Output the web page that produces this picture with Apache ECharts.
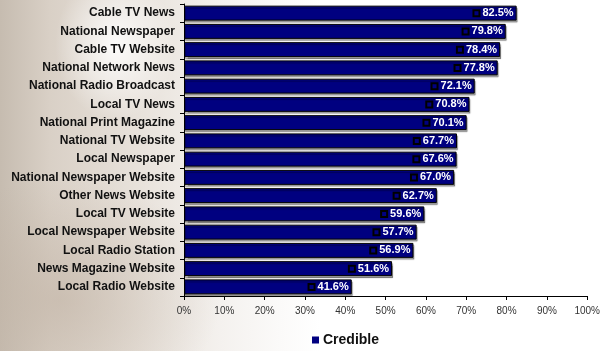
<!DOCTYPE html>
<html><head><meta charset="utf-8">
<script src="https://cdn.jsdelivr.net/npm/echarts@6/dist/echarts.min.js"></script>
<style>html,body{margin:0;padding:0;}#c{width:603px;height:351px;
background:
radial-gradient(ellipse 60px 75px at 115px 45px, rgba(255,255,255,0.9), rgba(255,255,255,0) 100%),
radial-gradient(ellipse 160px 120px at 60px 300px, rgba(190,175,160,0.55), rgba(190,175,160,0) 100%),
linear-gradient(90deg,#c6bcb0 0px,#d9d0c6 50px,#e8e2db 140px,#f4f1ee 220px,#fbfaf9 280px,#ffffff 320px);}
</style></head><body><div id="c"></div>
<script>
const categories = ["Cable TV News","National Newspaper","Cable TV Website","National Network News","National Radio Broadcast","Local TV News","National Print Magazine","National TV Website","Local Newspaper","National Newspaper Website","Other News Website","Local TV Website","Local Newspaper Website","Local Radio Station","News Magazine Website","Local Radio Website"];
const credible = [82.5,79.8,78.4,77.8,72.1,70.8,70.1,67.7,67.6,67.0,62.7,59.6,57.7,56.9,51.6,41.6];
const ticks = [0,10,20,30,40,50,60,70,80,90,100];
const seriesName = "Credible";

const chart = echarts.init(document.getElementById('c'), null, {renderer:'canvas'});
chart.setOption({
  animation:false,
  grid:{left:184,right:13,top:4,bottom:55,containLabel:false},
  legend:{top:328,left:307,itemWidth:7,itemHeight:7,icon:'rect',itemGap:4,
    itemStyle:{borderWidth:0},
    textStyle:{fontFamily:'Liberation Sans, Arial',fontWeight:'bold',fontSize:14,color:'#111',padding:[0,0,0,-1]},
    data:[seriesName]},
  xAxis:{type:'value',min:0,max:100,interval:10,
    axisLine:{show:true,lineStyle:{color:'#000',width:1}},
    axisTick:{show:true,length:4,lineStyle:{color:'#000'}},
    splitLine:{show:false},
    axisLabel:{formatter:v=>v+'%',fontFamily:'Liberation Sans, Arial',fontSize:10,color:'#333',margin:10}},
  yAxis:{type:'category',inverse:true,data:categories,
    axisLine:{show:true,lineStyle:{color:'#000',width:1}},
    axisTick:{show:true,length:4,lineStyle:{color:'#000'}},
    axisLabel:{fontFamily:'Liberation Sans, Arial',fontWeight:'bold',fontSize:12,color:'#111',margin:9}},
  series:[{name:seriesName,type:'bar',data:credible,barCategoryGap:'18%',
    itemStyle:{color:'#000080',borderColor:'#000',borderWidth:1,shadowColor:'rgba(0,0,0,0.35)',shadowOffsetX:1,shadowOffsetY:2,shadowBlur:1},
    label:{show:true,position:'insideRight',distance:3,
      formatter:p=>'{b|}{s|}'+p.value.toFixed(1)+'%',
      fontFamily:'Liberation Sans, Arial',fontWeight:'bold',fontSize:11,color:'#fff',
      rich:{b:{width:6,height:6,borderColor:'#000',borderWidth:1,backgroundColor:'transparent'},
            s:{width:3}}}
  }]
});
</script></body></html>
